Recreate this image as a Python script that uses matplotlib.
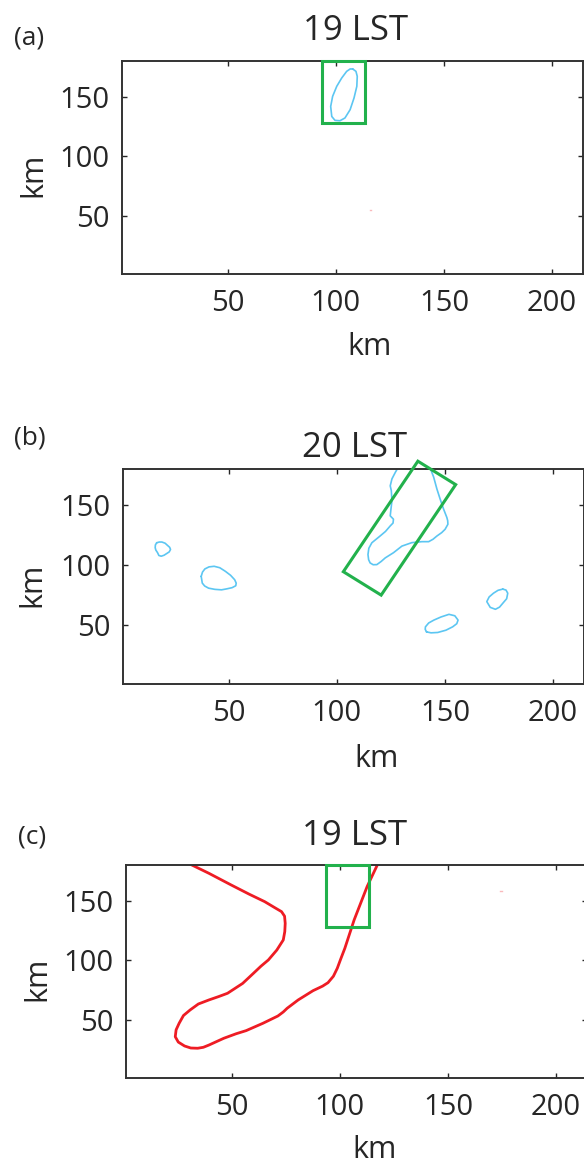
import matplotlib
matplotlib.use("Agg")
import matplotlib.pyplot as plt
from matplotlib.patches import Polygon

plt.rcParams["font.family"] = ["Open Sans", "DejaVu Sans"]

W, H = 584, 1164
TXT = "#262626"
BLUE = "#5cc6f2"
GREEN = "#22b14c"
RED = "#ee1c24"

XTICKS = [50, 100, 150, 200]
YTICKS = [50, 100, 150]
TITLES = ["19 LST", "20 LST", "19 LST"]
PANEL_TAGS = ["(a)", "(b)", "(c)"]

# box over the storm region (a, c) and the rotated box (b)
box_ac_x = [93.5, 113.5, 113.5, 93.5]
box_ac_y = [127.5, 127.5, 180.0, 180.0]
box_b_x = [137.5, 155.0, 120.5, 103.0]
box_b_y = [186.5, 167.0, 75.0, 94.5]

# (a) reflectivity contour
cell_a_x = [107.8, 109.3, 109.9, 109.7, 108.4, 106.6, 104.2, 101.9, 99.6, 98.1,
            97.6, 98.5, 100.4, 102.7, 105.0, 106.6, 107.8]
cell_a_y = [173.3, 171.3, 167.1, 158.7, 148.9, 139.1, 132.1, 129.8, 130.1, 133.4,
            141.8, 150.3, 158.7, 165.7, 171.3, 173.3, 173.3]
speck_a_x = [115.6, 116.4]
speck_a_y = [55.0, 55.0]

# (b) reflectivity contours
cell_b1_x = [128.2, 127.0, 125.5, 124.7, 125.2, 125.5, 125.0, 124.7, 126.2, 126.0,
             124.7, 122.5, 120.0, 116.2, 114.8, 114.4, 114.7, 115.4, 116.8, 118.5,
             120.5, 122.4, 126.2, 130.1, 134.7, 139.4, 142.5, 144.5, 146.3, 148.5,
             150.1, 151.4, 151.3, 150.9, 149.4, 147.8, 146.3, 144.8, 143.2]
cell_b1_y = [180.8, 177.0, 171.8, 166.0, 162.0, 153.6, 146.0, 141.0, 138.2, 135.0,
             132.6, 128.0, 124.2, 118.6, 114.0, 108.8, 104.5, 101.8, 100.3, 100.4,
             103.0, 106.0, 110.3, 115.8, 118.7, 119.5, 119.5, 121.5, 124.2, 127.0,
             129.8, 134.0, 137.0, 139.7, 146.6, 155.0, 163.4, 173.3, 180.8]
cell_b2_x = [16.6, 17.8, 19.0, 20.5, 21.6, 22.6, 23.0, 22.4, 21.3, 20.0, 18.7,
             17.6, 17.0, 16.2, 15.9, 16.0, 16.6]
cell_b2_y = [118.6, 119.2, 119.2, 118.2, 116.4, 114.8, 113.0, 111.0, 109.7, 108.2,
             107.4, 108.0, 110.3, 112.5, 114.5, 116.8, 118.6]
cell_b3_x = [37.2, 37.8, 38.9, 40.8, 43.2, 45.8, 48.4, 50.8, 52.7, 53.4, 53.2,
             51.5, 49.0, 46.6, 43.5, 40.6, 38.8, 37.7, 37.2]
cell_b3_y = [90.6, 94.2, 96.8, 98.5, 99.0, 97.8, 94.8, 91.5, 87.8, 85.0, 82.8,
             81.2, 80.2, 79.4, 79.8, 80.8, 82.6, 85.0, 90.6]
cell_b4_x = [141.5, 140.9, 141.0, 142.5, 144.9, 148.2, 151.9, 154.6, 156.1, 155.5,
             153.6, 150.5, 146.7, 143.6, 141.5]
cell_b4_y = [44.4, 46.5, 48.6, 51.8, 54.2, 56.8, 59.0, 57.8, 54.2, 51.2, 48.6,
             45.8, 43.9, 43.6, 44.4]
cell_b5_x = [176.8, 178.3, 179.1, 178.6, 176.8, 175.3, 173.4, 171.0, 169.4, 170.5,
             172.5, 174.6, 176.8]
cell_b5_y = [80.0, 79.2, 76.6, 72.0, 68.2, 65.0, 63.2, 64.8, 69.6, 73.5, 76.6,
             79.0, 80.0]

# (c) convergence line
front_c_x = [29.9, 39.4, 49.7, 58.0, 65.2, 70.0, 73.0, 74.4, 74.7, 74.5, 73.8,
             70.8, 66.9, 63.5, 60.0, 55.0, 48.0, 44.0, 39.4, 34.5, 30.7, 27.6,
             25.6, 24.2, 23.8, 25.2, 28.1, 31.0, 34.2, 36.8, 39.4, 46.3, 52.0,
             56.6, 64.4, 71.3, 73.8, 75.6, 80.7, 87.6, 92.0, 94.5, 97.0, 98.8,
             100.5, 102.3, 106.6, 112.6, 117.2]
front_c_y = [181.4, 173.0, 163.2, 155.5, 149.2, 144.0, 140.8, 137.0, 131.0, 124.0,
             117.0, 108.5, 100.2, 95.0, 89.0, 80.5, 72.2, 69.5, 66.6, 63.2, 58.2,
             53.5, 47.0, 41.5, 35.7, 31.2, 27.9, 26.2, 26.0, 26.8, 28.7, 34.4, 38.2,
             40.8, 47.0, 53.1, 56.5, 59.6, 66.6, 74.4, 78.2, 81.1, 86.5, 93.2,
             101.5, 110.0, 133.8, 161.8, 179.5]
speck_c_x = [174.1, 174.9]
speck_c_y = [158.5, 158.5]


def px_axes(left, top, right, bottom):
    return [left / W, 1 - bottom / H, (right - left) / W, (bottom - top) / H]


def ftext(fig, x, y, s, **kw):
    fig.text(x / W, 1 - y / H, s, color=TXT, **kw)


def style_axes(ax):
    ax.set_xlim(1, 214.4)
    ax.set_ylim(1, 180)
    ax.set_xticks(XTICKS)
    ax.set_yticks(YTICKS)
    ax.tick_params(direction="in", length=3.5, width=1.0, top=True, right=True,
                   labelsize=21, colors=TXT, pad=9)
    ax.tick_params(axis="x", pad=11)
    for sp in ax.spines.values():
        sp.set_linewidth(1.4)
        sp.set_color("#333333")


fig = plt.figure(figsize=(W / 100, H / 100), dpi=100)

axes = [
    fig.add_axes(px_axes(122, 61, 583, 274)),
    fig.add_axes(px_axes(123, 469, 584, 684)),
    fig.add_axes(px_axes(126, 865, 587, 1078)),
]
for ax in axes:
    style_axes(ax)

ax_a, ax_b, ax_c = axes
line_kw = dict(solid_joinstyle="round", solid_capstyle="round")

ax_a.plot(cell_a_x, cell_a_y, color=BLUE, lw=1.2, **line_kw)
ax_a.plot(speck_a_x, speck_a_y, color=RED, lw=1.0, alpha=0.3)
ax_a.add_patch(Polygon(list(zip(box_ac_x, box_ac_y)), closed=True, fill=False,
                       edgecolor=GREEN, lw=2.2, clip_on=False, zorder=5))

for cx, cy in [(cell_b1_x, cell_b1_y), (cell_b2_x, cell_b2_y), (cell_b3_x, cell_b3_y),
               (cell_b4_x, cell_b4_y), (cell_b5_x, cell_b5_y)]:
    ax_b.plot(cx, cy, color=BLUE, lw=1.2, **line_kw)
ax_b.add_patch(Polygon(list(zip(box_b_x, box_b_y)), closed=True, fill=False,
                       edgecolor=GREEN, lw=2.2, clip_on=False, zorder=5))

ax_c.plot(front_c_x, front_c_y, color=RED, lw=2.0, **line_kw)
ax_c.plot(speck_c_x, speck_c_y, color=RED, lw=1.0, alpha=0.3)
ax_c.add_patch(Polygon(list(zip(box_ac_x, box_ac_y)), closed=True, fill=False,
                       edgecolor=GREEN, lw=2.2, clip_on=False, zorder=5))

# titles, panel tags and axis labels (pixel positions)
title_pos = [(356, 40), (355, 457), (355, 845)]
tag_pos = [(29, 38), (30, 438), (32, 837)]
xlab_pos = [(370, 355), (377, 767), (375, 1158)]
ylab_pos = [(33, 175), (32, 585), (37, 979)]
for i in range(3):
    ftext(fig, *title_pos[i], TITLES[i], fontsize=25, ha="center", va="baseline")
    ftext(fig, *tag_pos[i], PANEL_TAGS[i], fontsize=19, ha="center", va="center")
    ftext(fig, *xlab_pos[i], "km", fontsize=22, ha="center", va="baseline")
    ftext(fig, *ylab_pos[i], "km", fontsize=22, ha="center", va="center", rotation=90)

plt.savefig("out.png", dpi=100)
plt.close()
